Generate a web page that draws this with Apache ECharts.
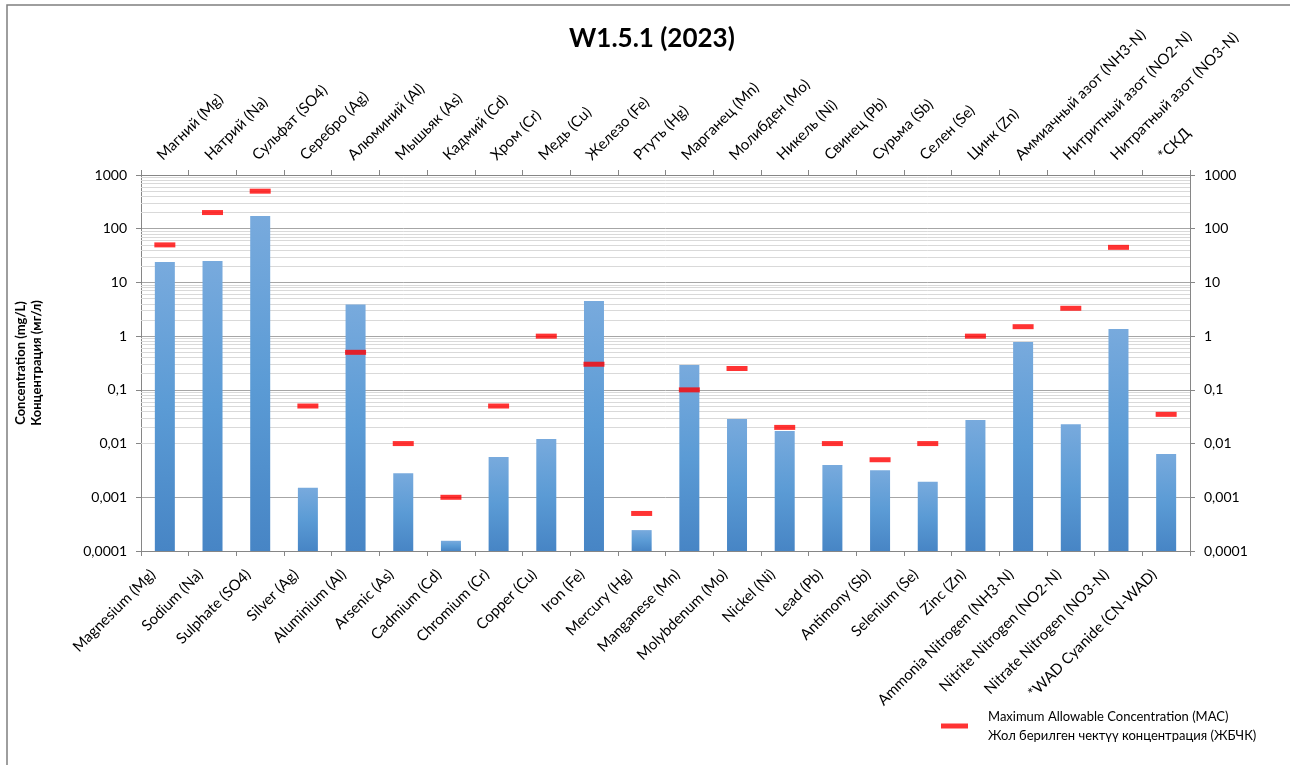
<!DOCTYPE html>
<html>
<head>
<meta charset="utf-8">
<title>W1.5.1 (2023)</title>
<script src="https://cdn.jsdelivr.net/npm/echarts@6/dist/echarts.min.js"></script>
<style>
  html, body { margin: 0; padding: 0; background: #fff; }
  #chart { width: 1290px; height: 765px; }
</style>
</head>
<body>
<div id="chart"></div>
<script>
// Parameter names (bottom axis, English)
const categoriesEn = [
  'Magnesium (Mg)', 'Sodium (Na)', 'Sulphate (SO4)', 'Silver (Ag)', 'Aluminium (Al)',
  'Arsenic (As)', 'Cadmium (Cd)', 'Chromium (Cr)', 'Copper (Cu)', 'Iron (Fe)',
  'Mercury (Hg)', 'Manganese (Mn)', 'Molybdenum (Mo)', 'Nickel (Ni)', 'Lead (Pb)',
  'Antimony (Sb)', 'Selenium (Se)', 'Zinc (Zn)', 'Ammonia Nitrogen (NH3-N)',
  'Nitrite Nitrogen (NO2-N)', 'Nitrate Nitrogen (NO3-N)', '*WAD Cyanide (CN-WAD)'
];

// Parameter names (top axis, Russian)
const categoriesRu = [
  'Магний (Mg)', 'Натрий (Na)', 'Сульфат (SO4)', 'Серебро (Ag)', 'Алюминий (Al)',
  'Мышьяк (As)', 'Кадмий (Cd)', 'Хром (Cr)', 'Медь (Cu)', 'Железо (Fe)',
  'Ртуть (Hg)', 'Марганец (Mn)', 'Молибден (Mo)', 'Никель (Ni)', 'Свинец (Pb)',
  'Сурьма (Sb)', 'Селен (Se)', 'Цинк (Zn)', 'Аммиачный азот (NH3-N)',
  'Нитритный азот (NO2-N)', 'Нитратный азот (NO3-N)', '*СКД'
];

// Measured concentrations, mg/L
const measured = [
  24, 25, 173, 0.0015, 3.9,
  0.0028, 0.000155, 0.0056, 0.0122, 4.5,
  0.000245, 0.29, 0.0286, 0.0171, 0.0040,
  0.0032, 0.00195, 0.0275, 0.78,
  0.023, 1.36, 0.0064
];

// Maximum allowable concentrations, mg/L
const mac = [
  50, 200, 500, 0.05, 0.5,
  0.01, 0.001, 0.05, 1, 0.3,
  0.0005, 0.1, 0.25, 0.02, 0.01,
  0.005, 0.01, 1, 1.5,
  3.3, 45, 0.035
];

// Decade tick values of the logarithmic scale
const decadeTicks = [0.0001, 0.001, 0.01, 0.1, 1, 10, 100, 1000];

const FONT = 'Lato';
const MAC_NAME = 'Maximum Allowable Concentration (MAC)\nЖол берилген чектүү концентрация (ЖБЧК)';
const Y_TITLE = 'Concentration (mg/L)\nКонцентрация (мг/л)';

// Minor gridline values: 2..9 within each decade
const minorValues = [];
for (let i = 0; i < decadeTicks.length - 1; i++) {
  for (let m = 2; m <= 9; m++) minorValues.push(m * decadeTicks[i]);
}

// Decimal comma labels: 0,1 / 0,01 / ...
function fmtLog(v) {
  const e = Math.round(Math.log10(v));
  if (e >= 0) return String(Math.pow(10, e));
  return '0,' + '0'.repeat(-e - 1) + '1';
}

const yBase = {
  type: 'log',
  logBase: 10,
  min: 0.0001,
  max: 1000,
  startValue: 0.0001,
  axisLine: { show: true, lineStyle: { color: '#868686', width: 1 } },
  axisTick: { show: true, inside: false, length: 5, lineStyle: { color: '#868686' } },
  axisLabel: { formatter: fmtLog, color: '#000', fontFamily: FONT, fontSize: 14, margin: 14 },
  minorTick: { show: false },
  splitLine: { show: false }
};

const chart = echarts.init(document.getElementById('chart'), null, { renderer: 'canvas' });

chart.setOption({
  backgroundColor: '#ffffff',
  animation: false,
  title: {
    text: 'W1.5.1 (2023)',
    left: 564,
    top: 21,
    textStyle: { fontFamily: FONT, fontSize: 26, fontWeight: 'bold', color: '#000' }
  },
  legend: {
    left: 936,
    top: 702,
    orient: 'vertical',
    itemWidth: 27,
    itemHeight: 5,
    icon: 'rect',
    data: [{ name: MAC_NAME }],
    textStyle: {
      fontFamily: FONT, fontSize: 13, color: '#000', lineHeight: 19,
      padding: [0, 0, 0, 15]
    }
  },
  graphic: [
    {
      // chart frame
      type: 'rect',
      shape: { x: 7, y: 5, width: 1300, height: 800 },
      style: { fill: 'none', stroke: '#7f7f7f', lineWidth: 1.5 },
      silent: true,
      z: -1
    },
    {
      // vertical axis title, two lines
      type: 'text',
      x: 29,
      y: 363,
      rotation: Math.PI / 2,
      silent: true,
      style: {
        text: Y_TITLE,
        fontFamily: FONT, fontSize: 13, fontWeight: 'bold', fill: '#000',
        lineHeight: 16, align: 'center', verticalAlign: 'middle'
      }
    }
  ],
  grid: { left: 141, right: 100, top: 175, bottom: 214, containLabel: false },
  xAxis: [
    {
      type: 'category',
      position: 'bottom',
      data: categoriesEn,
      boundaryGap: true,
      axisLine: { show: true, lineStyle: { color: '#868686' } },
      axisTick: { show: true, length: 5, lineStyle: { color: '#868686' } },
      axisLabel: {
        interval: 0, rotate: 45, margin: 9, padding: [0, 17, 0, 0],
        color: '#000', fontFamily: FONT, fontSize: 15
      }
    },
    {
      type: 'category',
      position: 'top',
      data: categoriesRu,
      boundaryGap: true,
      axisLine: { show: true, lineStyle: { color: '#868686' } },
      axisTick: { show: true, length: 5, lineStyle: { color: '#868686' } },
      axisLabel: {
        interval: 0, rotate: -45, margin: 12, verticalAlign: 'bottom',
        color: '#000', fontFamily: FONT, fontSize: 15
      }
    }
  ],
  yAxis: [
    Object.assign({}, yBase, {
      position: 'left',
      splitLine: { show: true, lineStyle: { color: '#a6a6a6', width: 1 } }
    }),
    Object.assign({}, yBase, { position: 'right' })
  ],
  series: [
    {
      // light minor gridlines at 2..9 × 10^k
      name: 'grid-minor',
      type: 'line',
      data: [],
      silent: true,
      z: 1,
      markLine: {
        silent: true,
        z: 1,
        symbol: 'none',
        label: { show: false },
        lineStyle: { color: '#d9d9d9', width: 1, type: 'solid' },
        emphasis: { disabled: true },
        data: minorValues.map(v => ({ yAxis: v }))
      }
    },
    {
      name: 'Measured',
      type: 'bar',
      data: measured,
      barWidth: 20,
      z: 3,
      itemStyle: {
        color: new echarts.graphic.LinearGradient(0, 0, 0, 1, [
          { offset: 0, color: '#78aadd' },
          { offset: 0.5, color: '#5b9bd5' },
          { offset: 1, color: '#4785c5' }
        ])
      }
    },
    {
      name: MAC_NAME,
      type: 'scatter',
      data: mac,
      symbol: 'rect',
      symbolSize: [21, 5],
      z: 4,
      itemStyle: { color: '#ff0000' }
    }
  ]
});
</script>
</body>
</html>
